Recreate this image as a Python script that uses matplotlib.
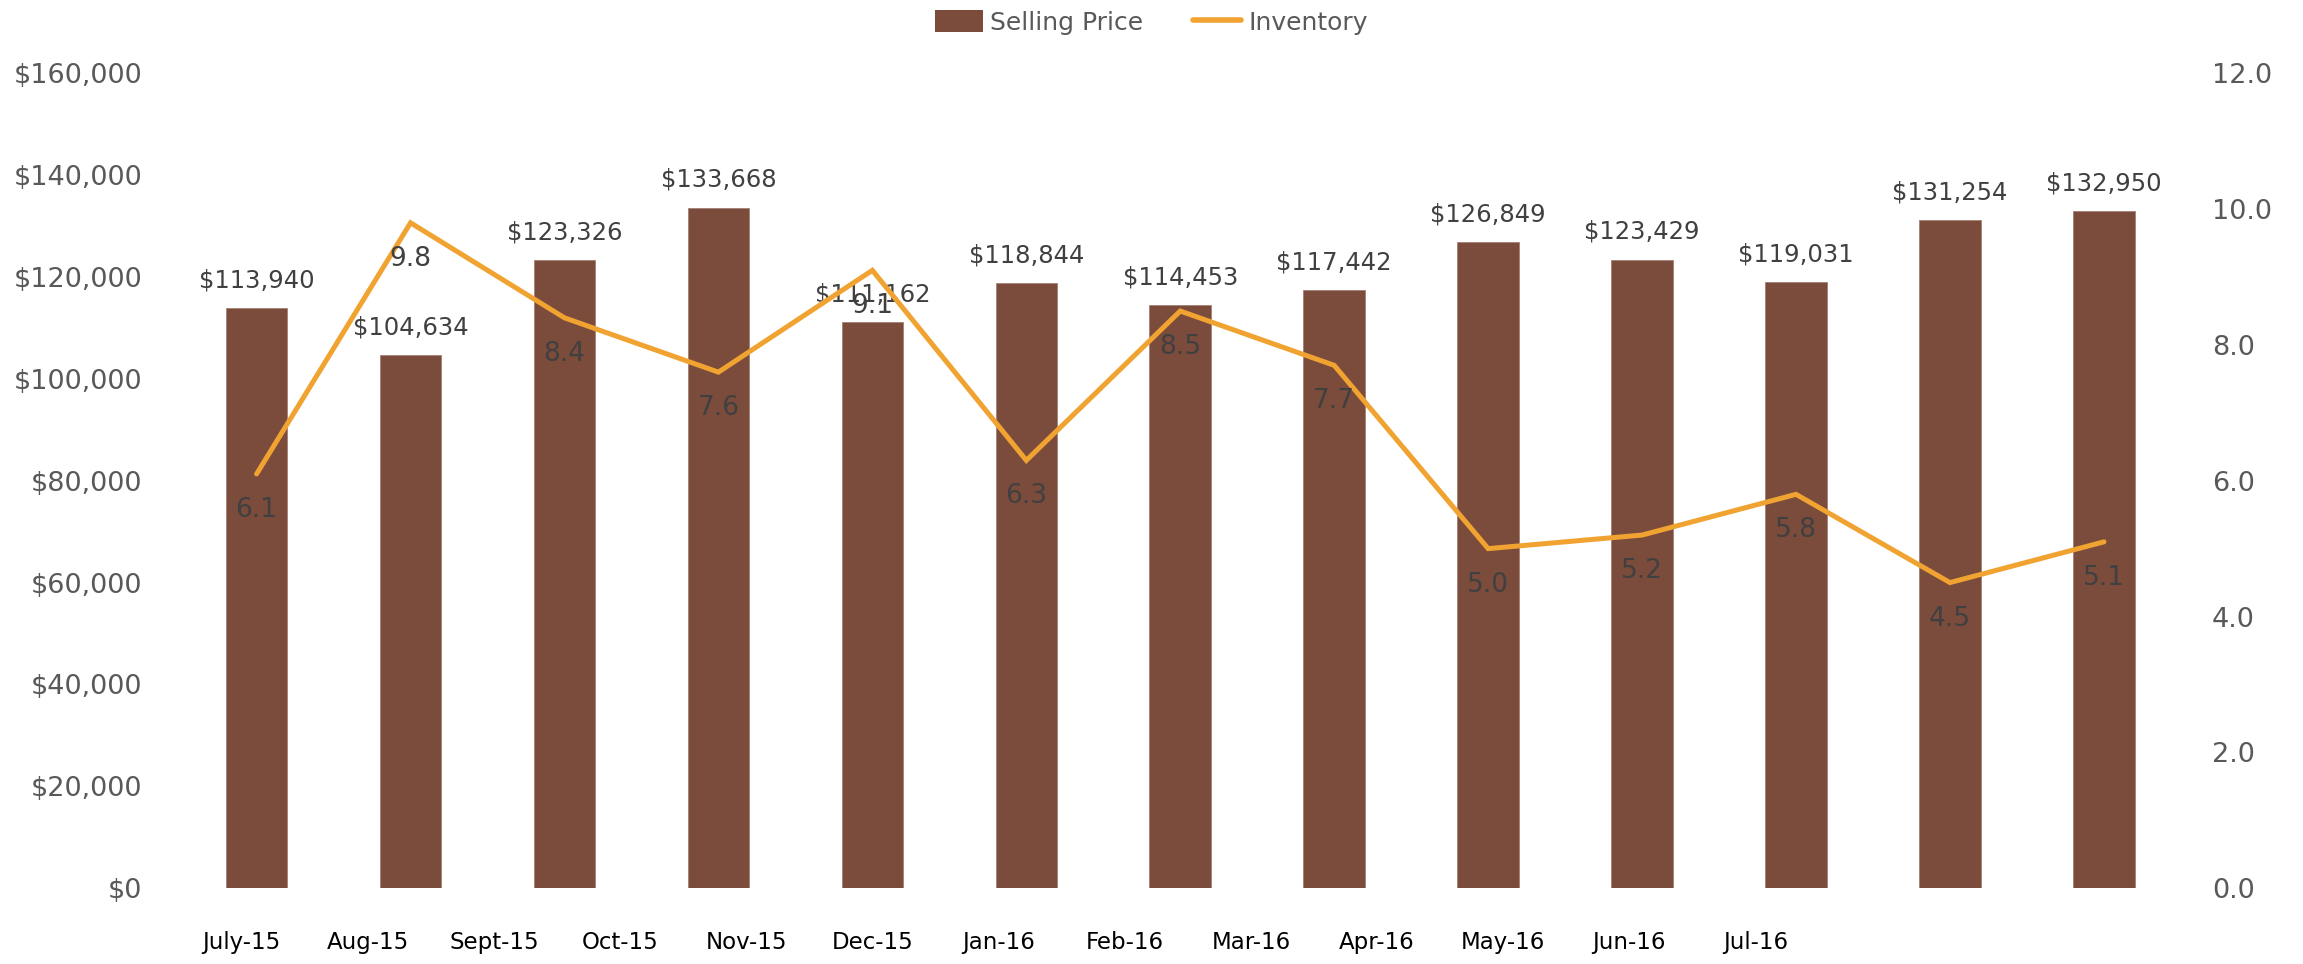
import matplotlib
matplotlib.use("Agg")
import matplotlib.pyplot as plt  # noqa: E402
from matplotlib.patches import Patch  # noqa: E402
from matplotlib.lines import Line2D  # noqa: E402
from matplotlib.ticker import FuncFormatter  # noqa: E402
import numpy as np

months = ["July-15", "Aug-15", "Sept-15", "Oct-15", "Nov-15", "Dec-15", "Jan-16",
          "Feb-16", "Mar-16", "Apr-16", "May-16", "Jun-16", "Jul-16"]
selling_price = [113940, 104634, 123326, 133668, 111162, 118844, 114453,
                 117442, 126849, 123429, 119031, 131254, 132950]
inventory = [6.1, 9.8, 8.4, 7.6, 9.1, 6.3, 8.5, 7.7, 5.0, 5.2, 5.8, 4.5, 5.1]

BAR_COLOR = "#7B4B3C"
LINE_COLOR = "#F0A330"
TICK_GRAY = "#595959"
LABEL_GRAY = "#404040"

fig = plt.figure(figsize=(23.03, 9.64), dpi=100)
ax = fig.add_axes([0.0673, 0.0788, 0.8877, 0.845])
ax2 = ax.twinx()

x = np.arange(len(selling_price))
ax.bar(x, selling_price, width=0.4, color=BAR_COLOR,
       edgecolor="#A58074", linewidth=0.6, zorder=2)
ax.set_ylim(0, 160000)
ax.set_yticks(np.arange(0, 160001, 20000))
ax.yaxis.set_major_formatter(FuncFormatter(lambda v, _: f"${v:,.0f}"))
ax.set_xlim(-0.66, 12.62)

for xi, v in zip(x, selling_price):
    ax.annotate(f"${v:,.0f}", (xi, v), xytext=(0, 20), textcoords="offset points",
                ha="center", va="center", fontsize=17.5, color=LABEL_GRAY, zorder=5)

# x labels in the reference sit on their own spacing, not under the bars
tick_pos = -0.097 + 0.8195 * np.arange(len(months))
ax.set_xticks(tick_pos)
ax.set_xticklabels(months, fontsize=16.5, color="black")
ax.tick_params(axis="x", length=0, pad=31)
ax.tick_params(axis="y", length=0, pad=9, labelsize=19.5, labelcolor=TICK_GRAY)

ax2.plot(x, inventory, color=LINE_COLOR, linewidth=3.6,
         solid_capstyle="round", solid_joinstyle="miter", zorder=3)
ax2.set_ylim(0, 12)
ax2.set_yticks(np.arange(0, 12.1, 2))
ax2.yaxis.set_major_formatter(FuncFormatter(lambda v, _: f"{v:.1f}"))
ax2.tick_params(axis="y", length=0, pad=9, labelsize=19.5, labelcolor=TICK_GRAY)

for xi, v in zip(x, inventory):
    ax2.annotate(f"{v:.1f}", (xi, v), xytext=(0, -26), textcoords="offset points",
                 ha="center", va="center", fontsize=19, color=LABEL_GRAY, zorder=5)

for a in (ax, ax2):
    for s in a.spines.values():
        s.set_visible(False)

handles = [Patch(facecolor=BAR_COLOR, label="Selling Price"),
           Line2D([0], [0], color=LINE_COLOR, linewidth=4, solid_capstyle="round",
                  label="Inventory")]
leg = fig.legend(handles=handles, loc="center", bbox_to_anchor=(0.5, 0.977), ncol=2,
                 frameon=False, handlelength=1.9, handleheight=1.0, columnspacing=2.0,
                 handletextpad=0.3, prop={"size": 18})
for t in leg.get_texts():
    t.set_color(TICK_GRAY)

fig.savefig("out.png", dpi=100)
plt.close(fig)
